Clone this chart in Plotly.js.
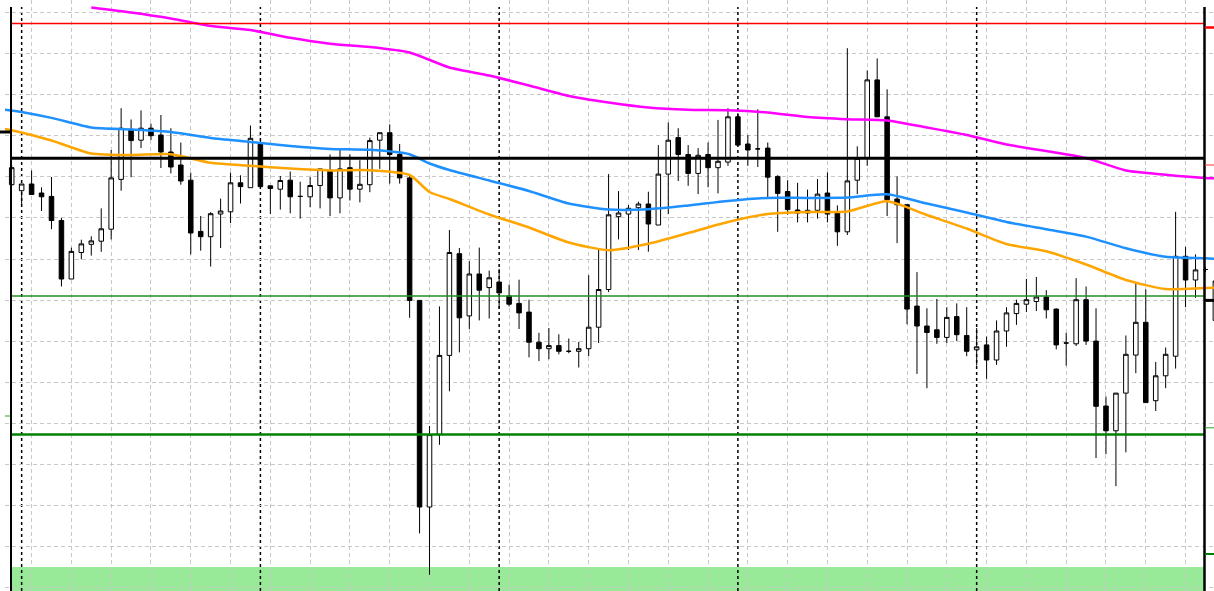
<!DOCTYPE html>
<html>
<head>
<meta charset="utf-8">
<script src="https://cdn.plot.ly/plotly-3.0.1.min.js"></script>
<style>html,body{margin:0;padding:0;background:#fff;}#chart{width:1214px;height:591px;}</style>
</head>
<body>
<div id="chart"></div>
<script>
// Hourly bars (price in arbitrary points)
const openP = [815.3,809.3,816,807,803.6,779.5,721,747.5,755.7,758.8,770.8,820.6,870.7,859.8,871.8,865,848,835,819.8,768.6,
763.3,786,788.2,817.2,812.3,857.5,814.2,810.8,819.8,803.6,803.2,814.5,829.6,802.1,832.3,810.8,815.3,859.8,867.3,845.5,
822.1,699.6,493,565.4,644.6,746.3,684.1,726,712.4,718,704.1,696.6,687.9,657.8,651.3,654.4,648.7,648.7,651.3,672.8,
710.5,783.3,786,792.3,796,775,825.9,862.4,845.5,826.6,845.5,832.3,837.9,883.2,856,851.1,851.9,823.6,808.5,790,
787,789.7,807,787.8,768.2,819.8,842.4,920.1,883.2,801,795.3,693.9,674,670.2,662.6,683.4,664.5,650.2,655.1,640,
669,686.4,695.8,698.5,703,690.9,657,656.2,700.3,658.9,594,569.2,606.9,644.9,677.7,599.3,624.2,643.8,743.7,720,
730.5,679.6];
const highP = [835,816,829.6,812.7,823,782,752.4,760.3,763.7,791.6,850,891.8,880.5,889.6,876.4,885,871.8,857.5,827.4,784,
787.8,801.4,827.4,824.7,874.5,859,814.2,824,828.5,818.3,822.8,831.1,845.5,851.9,845.5,839.8,862.4,867.3,875.6,856,
825.9,699.6,574,693.6,770,752,738.8,752.4,729.4,731.2,715.4,720.3,700.3,667.2,672,665.7,661.5,658.1,724.8,750.5,
825.9,808.9,795,798.3,808.3,854.9,877.5,871.8,854.9,851.9,857.5,880.1,891.8,887,865,890.7,857.5,824.7,819.8,817.2,
810.4,821,827.7,794.6,951.8,853.7,929.5,941.6,910.7,823.6,795.3,727.9,691.7,701.1,692.8,696.6,692.8,672,663.4,679.6,
692.8,700.3,721.1,723,709.8,691.7,667.2,721.8,713.5,691.7,603.5,606.9,664.5,718,710.5,638.1,652.5,788.2,753.1,745.6,
733,722];
const lowP = [814,795.3,805.5,789,770.8,713.5,721,740.7,744.4,748.2,760.6,809.3,822.8,851.9,860,832,826.6,815.3,745.6,749.3,
733.5,752,776.9,796.5,812.3,813.4,786,790.4,786.7,781.4,792.7,791.6,784,786.7,799.5,797.6,807.8,831.1,816.4,816.4,
682.2,466.6,425.2,555.2,608.7,647.6,671,679.6,681.5,691.7,693.6,671,642.7,638.9,640.8,645.7,646.8,632.5,643.8,657,
707.9,760.6,750,750,748.3,775,785.9,819,814.2,805.9,812.7,806.6,834.2,854.9,834.2,833,802.1,768.2,785.2,777.6,
777.6,781.4,777.6,754.2,765,805.9,834.2,883.2,784,756.9,675.8,626.1,611.8,656.2,657,658.9,643.8,634.4,621.2,635.1,
653.2,675.1,687.9,689,681.5,650.6,634.4,654,655.1,542,545.8,513.8,547.7,626.8,597.4,589,611.8,631.4,692.8,702.2,
728,678];
const closeP = [832.3,816,805.5,803.2,779.5,721,748.6,756.1,759.1,771.2,822.1,871.8,859.4,871.8,864.3,848,833,819,767,763.3,
786.3,789,817.2,813.4,861.7,813.4,811.5,819.5,803.2,803.6,814.5,831.1,802.1,831.1,810.8,815.7,859.4,867.3,845.5,822.1,
699.6,493,565.4,644.6,747.5,682.2,726,709.8,722.2,707.1,695.8,687.1,657.8,651.3,654.4,648.7,648.7,651.3,672.8,710.5,
785.2,787,791.7,796,776,825.9,859.8,845.5,826.6,844.7,832.3,838.7,883.2,854.9,850,851.1,822.8,806.6,790.4,787,
789.7,805.9,785.9,768.2,819.1,841.7,920.1,883.2,800.2,795.3,690.9,674,667.5,662.6,682.6,665.3,648.7,653.2,640,669,
687.1,696.6,700.3,703,690.2,655.1,657,700.3,658.9,593.7,569.2,606.9,645.7,677.7,597.4,624.2,645.7,743.7,720,730.1,
730.5,719];

// Moving averages, sampled at bar indices
const maIdx = [-1,0,4,8,12,16,20,24,28,32,36,40,42,44,48,52,56,60,64,68,72,76,80,84,88,92,96,100,104,108,112,116,120,121];
const maBlue = [890.5,889.5,882.1,872.4,870.5,868,862,858.1,854,851.1,850.2,845.7,836.5,830,819.5,809,796.5,790.5,790.7,794.5,
799,802.1,802.1,802.5,805.7,796.5,787.5,778,770.7,763.4,751.8,743.2,741.8,741.2];
const maOrange = [871.5,869.7,859.5,846.5,845,845.8,837.2,834.2,831.4,829.6,829.8,825,808,801,785.5,772.5,757.5,749.8,756.3,767,
778,786,788,788.5,798.8,785,771.5,756,748.7,735.5,720,711,712,712.3];
const magIdx = [8,12,16,20,24,28,32,36,40,44,48,52,56,60,64,68,72,76,80,84,88,92,96,100,104,108,112,116,120,121];
const maMagenta = [992.5,987.5,981.5,974,970,962.2,956.3,953,947.5,932.5,924.5,914.5,904,897.5,892.5,890.3,889.8,887.5,883,880.8,
879.5,872.5,865,855.5,849,842,829.5,825.3,822.1,821.8];

// Horizontal levels and zone
const levelRed = 976.6, levelBlack = 841.7, levelGreenThin = 704, levelGreenThick = 565.4;
const zoneLow = 409, zoneHigh = 433;
const daySeparators = [1,25,49,73,97];
const rightMarks = [{p:972.5,c:'#ff0000',w:2.5},{p:835,c:'#ff3030',w:1},{p:699.6,c:'#000000',w:3},{p:572.2,c:'#2ca02c',w:1},{p:446,c:'#008000',w:2}];
const leftMarks = [{p:868,c:'#000000',w:3,a:0,b:12},{p:584,c:'#2ca02c',w:1,a:5,b:10}];

const W = 1214, H = 591, ML = 5;
const yMin = 409, yMax = 1000;
const px = v => (v - ML) / (W - ML);          // pixel x -> paper
const py = p => (p - yMin) / (yMax - yMin);   // price -> paper y

const xs = openP.map((_, i) => i);

const traces = [
  {
    type: 'candlestick', x: xs, open: openP, high: highP, low: lowP, close: closeP,
    increasing: {line: {color: '#000000', width: 1}, fillcolor: '#ffffff'},
    decreasing: {line: {color: '#000000', width: 1}, fillcolor: '#000000'},
    whiskerwidth: 0, hoverinfo: 'none', showlegend: false
  },
  {type: 'scatter', mode: 'lines', x: magIdx, y: maMagenta, line: {color: '#ff00ff', width: 2.5, shape: 'spline', smoothing: 0.6}, hoverinfo: 'none'},
  {type: 'scatter', mode: 'lines', x: maIdx, y: maBlue, line: {color: '#1e90ff', width: 2.5, shape: 'spline', smoothing: 0.6}, hoverinfo: 'none'},
  {type: 'scatter', mode: 'lines', x: maIdx, y: maOrange, line: {color: '#ffa500', width: 2.5, shape: 'spline', smoothing: 0.6}, hoverinfo: 'none'}
];

const L = px(11), R = px(1204.5), topY = py(1000 - 7);
const shapes = [
  {type: 'rect', xref: 'paper', yref: 'y', x0: L, x1: R, y0: zoneLow, y1: zoneHigh, fillcolor: '#98ea98', line: {width: 0}, layer: 'below'},
  {type: 'line', xref: 'paper', yref: 'y', x0: L, x1: R, y0: levelRed, y1: levelRed, line: {color: '#ff0000', width: 1.5}},
  {type: 'line', xref: 'paper', yref: 'y', x0: L, x1: R, y0: levelBlack, y1: levelBlack, line: {color: '#000000', width: 3}},
  {type: 'line', xref: 'paper', yref: 'y', x0: L, x1: R, y0: levelGreenThin, y1: levelGreenThin, line: {color: '#1f8f1f', width: 1.3}},
  {type: 'line', xref: 'paper', yref: 'y', x0: L, x1: R, y0: levelGreenThick, y1: levelGreenThick, line: {color: '#008000', width: 2.5}},
  {type: 'line', xref: 'paper', yref: 'paper', x0: L, x1: L, y0: 0, y1: topY, line: {color: '#000000', width: 2}},
  {type: 'line', xref: 'paper', yref: 'paper', x0: R, x1: R, y0: 0, y1: topY, line: {color: '#000000', width: 2.5}}
];
daySeparators.forEach(d => shapes.push({type: 'line', xref: 'x', yref: 'paper', x0: d, x1: d, y0: 0, y1: topY,
  line: {color: '#000000', width: 1.5, dash: '3px,3px'}, layer: 'below'}));
rightMarks.forEach(m => shapes.push({type: 'line', xref: 'paper', yref: 'paper', x0: px(1205), x1: 1, y0: py(m.p), y1: py(m.p),
  line: {color: m.c, width: m.w}}));
leftMarks.forEach(m => shapes.push({type: 'line', xref: 'paper', yref: 'paper', x0: px(m.a), x1: px(m.b), y0: py(m.p), y1: py(m.p),
  line: {color: m.c, width: m.w}}));

const barPx = 9.948, firstBarPx = 11.7;
const layout = {
  width: W, height: H,
  margin: {l: ML, r: 0, t: 0, b: 0, pad: 0},
  paper_bgcolor: '#ffffff', plot_bgcolor: '#ffffff',
  showlegend: false, boxgap: 0.35, hovermode: false,
  xaxis: {
    range: [(ML - firstBarPx) / barPx, (W - firstBarPx) / barPx],
    showticklabels: false, ticks: '', zeroline: false, showline: false,
    showgrid: true, gridcolor: '#c8c8c8', griddash: '4px,3px', gridwidth: 1,
    tick0: 2, dtick: 4, rangeslider: {visible: false}, fixedrange: true
  },
  yaxis: {
    range: [yMin, yMax],
    showticklabels: false, ticks: '', zeroline: false, showline: false,
    showgrid: true, gridcolor: '#c8c8c8', griddash: '4px,3px', gridwidth: 1,
    tick0: 987.6, dtick: 41.1, fixedrange: true
  },
  shapes: shapes
};

Plotly.newPlot('chart', traces, layout, {staticPlot: true, displayModeBar: false});
</script>
</body>
</html>
